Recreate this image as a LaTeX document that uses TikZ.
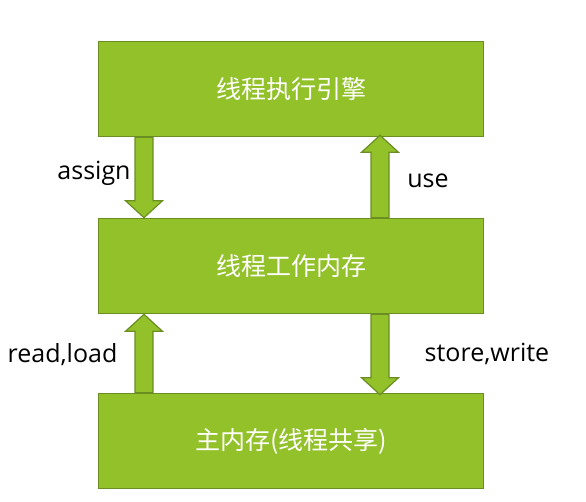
\documentclass[tikz,border=0pt]{standalone}
\usepackage{fontspec}
\setmainfont{Open Sans}
\newfontfamily\cjk{Noto Sans CJK SC}
\usetikzlibrary{calc}
\definecolor{boxfill}{RGB}{146,193,42}
\definecolor{boxline}{RGB}{107,142,35}
\tikzset{
  membox/.style={draw=boxline, fill=boxfill, line width=1.6pt, minimum width=385pt, minimum height=95pt, inner sep=0pt, text=white, font=\cjk\fontsize{25}{30}\selectfont},
  blockarr/.style={draw=boxline, fill=boxfill, line width=1.2pt, line join=miter},
  lbl/.style={anchor=base, inner sep=0pt, font=\fontsize{25}{30}\selectfont}
}
\newcommand{\barrow}[2]{%
  \draw[blockarr] ($(#1)+(-9,0)$) -- ($(#2)!17pt!(#1)+(-9,0)$) -- ($(#2)!17pt!(#1)+(-18.5,0)$) -- (#2)
    -- ($(#2)!17pt!(#1)+(18.5,0)$) -- ($(#2)!17pt!(#1)+(9,0)$) -- ($(#1)+(9,0)$) -- cycle;}
\begin{document}
\begin{tikzpicture}[x=1pt,y=-1pt]
\useasboundingbox (0,0) rectangle (586,501);
\node[membox] (eng) at (291,89) {线程执行引擎};
\node[membox] (work) at (291,266) {线程工作内存};
\node[membox] (main) at (291,441) {主内存(线程共享)};
\path (144,0) coordinate (xl) (380,0) coordinate (xr);
\coordinate (a1s) at (eng.south -| xl);
\coordinate (a1t) at (work.north -| xl);
\coordinate (a2s) at (work.north -| xr);
\coordinate (a2t) at ($(eng.south -| xr)+(0,-2)$);
\coordinate (a3s) at (work.south -| xr);
\coordinate (a3t) at ($(main.north -| xr)+(0,2)$);
\coordinate (a4s) at (main.north -| xl);
\coordinate (a4t) at (work.south -| xl);
\barrow{a1s}{a1t}
\barrow{a2s}{a2t}
\barrow{a3s}{a3t}
\barrow{a4s}{a4t}
\node[lbl] (lassign) at (94,179) {assign};
\node[lbl] (luse) at (428,187) {use};
\node[lbl] (lread) at (62.5,362) {read,load};
\node[lbl] (lstore) at (487,361) {store,write};
\end{tikzpicture}
\end{document}
